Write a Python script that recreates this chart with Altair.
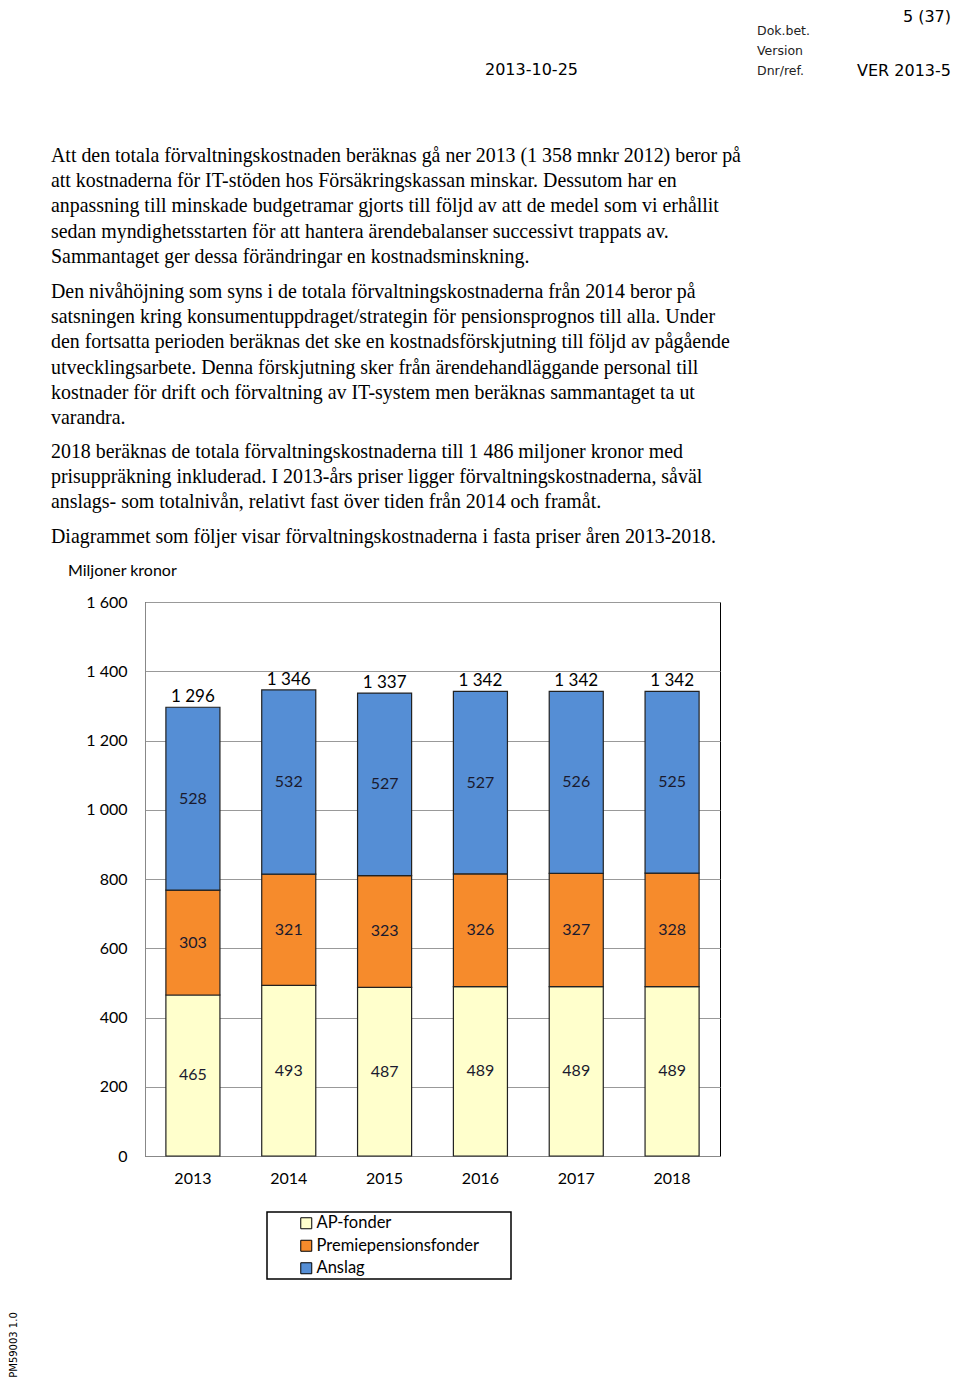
import altair as alt
import pandas as pd

# ---------------- data ----------------
years = ["2013", "2014", "2015", "2016", "2017", "2018"]
ap_fonder = [465, 493, 487, 489, 489, 489]
premiepension = [303, 321, 323, 326, 327, 328]
anslag = [528, 532, 527, 527, 526, 525]
series_names = ["AP-fonder", "Premiepensionsfonder", "Anslag"]
series_colors = ["#FFFFCC", "#F68B2C", "#558ED5"]
y_tick_values = [0, 200, 400, 600, 800, 1000, 1200, 1400, 1600]

para1 = [
    "Att den totala förvaltningskostnaden beräknas gå ner 2013 (1 358 mnkr 2012) beror på",
    "att kostnaderna för IT-stöden hos Försäkringskassan minskar. Dessutom har en",
    "anpassning till minskade budgetramar gjorts till följd av att de medel som vi erhållit",
    "sedan myndighetsstarten för att hantera ärendebalanser successivt trappats av.",
    "Sammantaget ger dessa förändringar en kostnadsminskning.",
]
para2 = [
    "Den nivåhöjning som syns i de totala förvaltningskostnaderna från 2014 beror på",
    "satsningen kring konsumentuppdraget/strategin för pensionsprognos till alla. Under",
    "den fortsatta perioden beräknas det ske en kostnadsförskjutning till följd av pågående",
    "utvecklingsarbete. Denna förskjutning sker från ärendehandläggande personal till",
    "kostnader för drift och förvaltning av IT-system men beräknas sammantaget ta ut",
    "varandra.",
]
para3 = [
    "2018 beräknas de totala förvaltningskostnaderna till 1 486 miljoner kronor med",
    "prisuppräkning inkluderad. I 2013-års priser ligger förvaltningskostnaderna, såväl",
    "anslags- som totalnivån, relativt fast över tiden från 2014 och framåt.",
]
para4 = ["Diagrammet som följer visar förvaltningskostnaderna i fasta priser åren 2013-2018."]

# ---------------- tables ----------------
rows = []
for i, yr in enumerate(years):
    for k, (name, vals) in enumerate(zip(series_names, [ap_fonder, premiepension, anslag])):
        rows.append({"year": yr, "series": name, "value": vals[i], "order": k})
df = pd.DataFrame(rows)
totals = pd.DataFrame({"year": years,
                       "total": [a + b + c for a, b, c in zip(ap_fonder, premiepension, anslag)]})
one = pd.DataFrame({"d": [0]})

CHART_FONT = "Lato"
SERIF = "Liberation Serif"
SANS = "DejaVu Sans"

x_enc = alt.X("year:N", sort=years, title=None,
              scale=alt.Scale(paddingInner=0.436, paddingOuter=0.218),
              axis=alt.Axis(labelAngle=0, ticks=False, grid=False, labelPadding=14, labelFont=CHART_FONT,
                            labelFontSize=16, labelColor="#000", domainColor="#888"))

bars = alt.Chart(df).mark_bar(stroke="#222", strokeWidth=1.2).encode(
    x=x_enc,
    y=alt.Y("value:Q", stack="zero", title=None,
            scale=alt.Scale(domain=[0, 1600], nice=False),
            axis=alt.Axis(values=y_tick_values, ticks=False, grid=True, labelPadding=18,
                          labelFont=CHART_FONT, labelFontSize=16, labelColor="#000",
                          gridColor="#999", domainColor="#888",
                          labelExpr="replace(format(datum.value, ','), ',', ' ')")),
    color=alt.Color("series:N", sort=series_names,
                    scale=alt.Scale(domain=series_names, range=series_colors),
                    legend=alt.Legend(title=None, orient="none", legendX=153, legendY=613,
                                      symbolType="square", symbolSize=121,
                                      symbolStrokeColor="#000", symbolStrokeWidth=1,
                                      labelFont=CHART_FONT, labelFontSize=16.5, labelColor="#000",
                                      labelLimit=400, labelOffset=2, rowPadding=5.5, padding=0)),
    order=alt.Order("order:Q", sort="ascending"),
)

seg_labels = alt.Chart(df).transform_stack(
    stack="value", groupby=["year"], as_=["v0", "v1"],
    sort=[alt.SortField("order", order="ascending")]
).transform_calculate(mid="(datum.v0 + datum.v1) / 2").mark_text(
    font=CHART_FONT, fontSize=16, color="#1a1a2e", baseline="middle"
).encode(x=alt.X("year:N", sort=years), y=alt.Y("mid:Q"), text=alt.Text("value:Q"))

total_labels = alt.Chart(totals).transform_calculate(
    lab="replace(format(datum.total, ','), ',', ' ')"
).mark_text(font=CHART_FONT, fontSize=17, color="#000", baseline="bottom", dy=-1).encode(
    x=alt.X("year:N", sort=years), y=alt.Y("total:Q"), text="lab:N")


def block(lines, x, y, font, size, line_h=25.2, align="left", baseline="alphabetic", color="#000", angle=0):
    return alt.Chart(one).mark_text(text=lines, font=font, fontSize=size, lineHeight=line_h,
                                    align=align, baseline=baseline, color=color, angle=angle).encode(
        x=alt.value(x), y=alt.value(y))


texts = [
    block(para1, -94, -440, SERIF, 19.9),
    block(para2, -94, -304, SERIF, 19.9),
    block(para3, -94, -144, SERIF, 19.9),
    block(para4, -94, -59, SERIF, 19.9),
    block("Miljoner kronor", -77, -31, CHART_FONT, 16, baseline="middle"),
    block("5 (37)", 806, -585, SANS, 16, align="right", baseline="middle"),
    block("Dok.bet.", 612, -571, SANS, 12.5, baseline="middle", color="#222"),
    block("Version", 612, -551, SANS, 12.5, baseline="middle", color="#222"),
    block("Dnr/ref.", 612, -531, SANS, 12.5, baseline="middle", color="#222"),
    block("2013-10-25", 340, -532, SANS, 16, baseline="middle"),
    block("VER 2013-5", 806, -531, SANS, 16, align="right", baseline="middle"),
    block("PM59003 1.0", -131, 743, SANS, 10, align="center", baseline="middle", angle=270),
]

legend_box = alt.Chart(one).mark_rect(fill="white", fillOpacity=0, stroke="#000", strokeWidth=1.5).encode(
    x=alt.value(122), x2=alt.value(366), y=alt.value(610), y2=alt.value(677))

chart = alt.layer(bars, seg_labels, total_labels, legend_box, *texts).properties(
    width=575, height=554,
    autosize=alt.AutoSizeParams(type="none"),
    padding={"left": 137, "top": 594, "right": 232, "bottom": 224},
).configure_view(stroke="#000", strokeWidth=1)

chart.save("out.html", embed_options={"renderer": "svg", "actions": False})
